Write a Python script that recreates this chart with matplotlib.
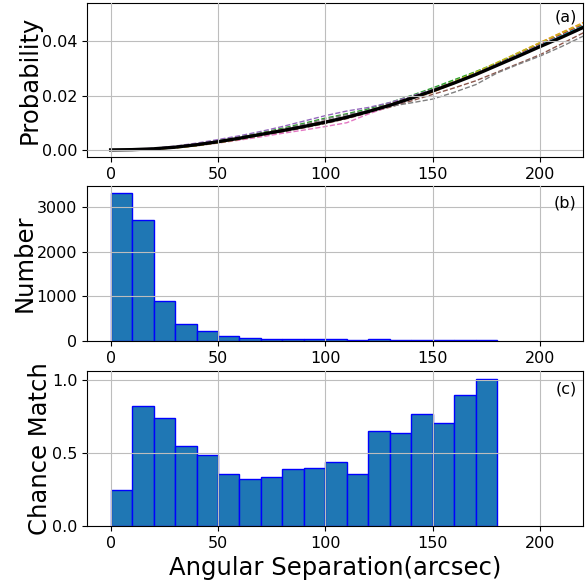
import numpy as np
import matplotlib.pyplot as plt

# separation grid (arcsec) for the cumulative probability curves
sep = [0, 10, 20, 30, 40, 50, 60, 70, 80, 90, 100, 110, 120,
       130, 140, 150, 160, 170, 180, 190, 200, 210, 220, 230, 240]

# individual fields (dashed) and their mean (solid black)
prob_fields = [
    [0, 0.0001, 0.0005, 0.0011, 0.0020, 0.0031, 0.0044, 0.0058, 0.0073, 0.0089, 0.0106, 0.0124, 0.0145,
     0.0168, 0.0194, 0.0222, 0.0252, 0.0284, 0.0318, 0.0353, 0.0389, 0.0424, 0.0459, 0.0493, 0.0522],
    [0, 0.0001, 0.0003, 0.0008, 0.0016, 0.0027, 0.0040, 0.0054, 0.0069, 0.0085, 0.0101, 0.0118, 0.0140,
     0.0163, 0.0188, 0.0212, 0.0245, 0.0282, 0.0320, 0.0358, 0.0395, 0.0432, 0.0468, 0.0500, 0.0528],
    [0, 0.0001, 0.0005, 0.0012, 0.0022, 0.0034, 0.0048, 0.0063, 0.0080, 0.0098, 0.0117, 0.0133, 0.0151,
     0.0174, 0.0200, 0.0228, 0.0258, 0.0288, 0.0320, 0.0354, 0.0388, 0.0422, 0.0457, 0.0490, 0.0520],
    [0, 0.0001, 0.0004, 0.0010, 0.0019, 0.0031, 0.0045, 0.0060, 0.0075, 0.0090, 0.0106, 0.0122, 0.0144,
     0.0168, 0.0193, 0.0220, 0.0250, 0.0282, 0.0316, 0.0352, 0.0390, 0.0426, 0.0462, 0.0495, 0.0524],
    [0, 0.0001, 0.0006, 0.0014, 0.0025, 0.0038, 0.0052, 0.0068, 0.0086, 0.0106, 0.0126, 0.0143, 0.0156,
     0.0174, 0.0198, 0.0222, 0.0250, 0.0280, 0.0313, 0.0348, 0.0384, 0.0418, 0.0452, 0.0486, 0.0516],
    [0, 0.0001, 0.0003, 0.0008, 0.0016, 0.0027, 0.0039, 0.0052, 0.0066, 0.0081, 0.0097, 0.0115, 0.0136,
     0.0157, 0.0180, 0.0204, 0.0228, 0.0254, 0.0286, 0.0318, 0.0350, 0.0390, 0.0430, 0.0466, 0.0498],
    [0, 0.0001, 0.0003, 0.0008, 0.0015, 0.0025, 0.0036, 0.0048, 0.0061, 0.0073, 0.0086, 0.0100, 0.0132,
     0.0160, 0.0187, 0.0216, 0.0246, 0.0280, 0.0315, 0.0350, 0.0386, 0.0420, 0.0455, 0.0488, 0.0518],
    [0, 0.0001, 0.0004, 0.0010, 0.0019, 0.0031, 0.0045, 0.0060, 0.0076, 0.0094, 0.0113, 0.0130, 0.0145,
     0.0160, 0.0173, 0.0187, 0.0212, 0.0240, 0.0283, 0.0315, 0.0345, 0.0380, 0.0418, 0.0455, 0.0490],
    [0, 0.0000, 0.0002, 0.0007, 0.0015, 0.0026, 0.0039, 0.0054, 0.0070, 0.0087, 0.0104, 0.0122, 0.0143,
     0.0166, 0.0192, 0.0220, 0.0252, 0.0286, 0.0322, 0.0358, 0.0394, 0.0430, 0.0466, 0.0500, 0.0530],
    [0, 0.0001, 0.0004, 0.0010, 0.0018, 0.0029, 0.0042, 0.0056, 0.0071, 0.0087, 0.0103, 0.0121, 0.0142,
     0.0165, 0.0190, 0.0218, 0.0248, 0.0280, 0.0314, 0.0349, 0.0385, 0.0420, 0.0456, 0.0490, 0.0520],
]
prob_mean = [0, 0.0001, 0.0004, 0.0010, 0.0019, 0.0030, 0.0043, 0.0057, 0.0071, 0.0086, 0.0102, 0.0120, 0.0141,
             0.0164, 0.0190, 0.0217, 0.0246, 0.0277, 0.0311, 0.0345, 0.0380, 0.0414, 0.0450, 0.0484, 0.0515]

# histogram bins (left edges, 10 arcsec wide)
bin_left = [0, 10, 20, 30, 40, 50, 60, 70, 80, 90, 100, 110, 120, 130, 140, 150, 160, 170]
counts = [3310, 2705, 900, 370, 220, 120, 75, 55, 55, 45, 45, 30, 45, 30, 30, 30, 30, 25]
chance = [0.25, 0.826, 0.741, 0.551, 0.491, 0.359, 0.326, 0.340, 0.389, 0.396,
          0.437, 0.359, 0.653, 0.639, 0.771, 0.708, 0.903, 1.01]

fig = plt.figure(figsize=(5.86, 5.81), dpi=100)
ax1 = fig.add_axes([0.1485, 0.7298, 0.8465, 0.2650])
ax2 = fig.add_axes([0.1485, 0.4131, 0.8465, 0.2669])
ax3 = fig.add_axes([0.1485, 0.0947, 0.8465, 0.2667])

for i, p in enumerate(prob_fields):
    ax1.plot(sep, p, '--', color='C%d' % i, lw=1.0)
ax1.plot(sep, prob_mean, 'k-', lw=2.4)
ax1.set_ylim(-0.0026, 0.054)
ax1.set_yticks([0, 0.02, 0.04])
ax1.set_ylabel('Probability', fontsize=17.5, labelpad=0)

ax2.bar(bin_left, counts, width=10, align='edge', color='C0', edgecolor='b', lw=1)
ax2.set_ylim(0, 3477)
ax2.set_yticks([0, 1000, 2000, 3000])
ax2.set_ylabel('Number', fontsize=17.5, labelpad=0)

ax3.bar(bin_left, chance, width=10, align='edge', color='C0', edgecolor='b', lw=1)
ax3.set_ylim(0, 1.065)
ax3.set_yticks([0, 0.5, 1.0])
ax3.set_ylabel('Chance Match', fontsize=17.5, labelpad=0)
ax3.set_xlabel('Angular Separation(arcsec)', fontsize=17.5)

for ax, lab, ty in zip([ax1, ax2, ax3], ['(a)', '(b)', '(c)'], [0.955, 0.935, 0.93]):
    ax.set_xlim(-11, 220)
    ax.set_xticks([0, 50, 100, 150, 200])
    ax.grid(True, color='#bdbdbd', lw=0.8)
    ax.set_axisbelow(False)
    ax.tick_params(labelsize=11.5)
    ax.text(0.987, ty, lab, transform=ax.transAxes, ha='right', va='top', fontsize=11.5)

fig.savefig('out.png', dpi=100)
